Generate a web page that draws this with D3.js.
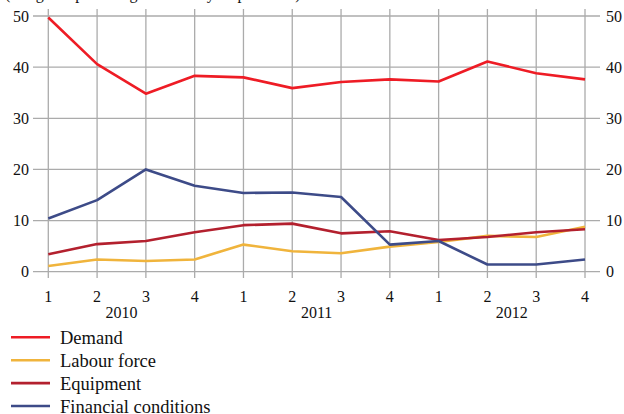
<!DOCTYPE html>
<html><head><meta charset="utf-8">
<script src="https://cdn.jsdelivr.net/npm/d3@7"></script>
<style>body{margin:0;background:#fff}svg text{font-family:"Liberation Serif","DejaVu Serif",serif !important}</style>
</head><body><svg id="c" width="624" height="414"></svg>
<script>
const quarters = ["1","2","3","4","1","2","3","4","1","2","3","4"];
const years = ["2010","2011","2012"];
const yTicks = [0,10,20,30,40,50];
const seriesNames = ["Demand","Labour force","Equipment","Financial conditions"];
const seriesColors = ["#ee1c25","#f0b43c","#b3202e","#3d4b88"];
const demand = [49.7,40.6,34.8,38.3,38.0,35.9,37.1,37.6,37.2,41.1,38.8,37.6];
const labour = [1.1,2.4,2.1,2.4,5.3,4.0,3.6,4.9,5.8,7.0,6.8,8.8];
const equipment = [3.4,5.4,6.0,7.7,9.1,9.4,7.5,7.9,6.2,6.8,7.7,8.3];
const financial = [10.4,14.0,20.0,16.8,15.4,15.5,14.6,5.3,6.0,1.4,1.4,2.4];
const allSeries = [demand, labour, equipment, financial];

const svg = d3.select("#c");
const x = d3.scaleLinear().domain([0,11]).range([48.3,585]);
const y = d3.scaleLinear().domain([0,50]).range([271.7,16]);
const grid = "#ababab";

svg.append("text").attr("x",5).attr("y",-1).attr("font-size",16).attr("fill","#111")
  .text("(Weighted percentages of survey respondents)");

// horizontal grid
svg.append("g").selectAll("line").data(yTicks).join("line")
  .attr("x1",33).attr("x2",600).attr("y1",d=>y(d)).attr("y2",d=>y(d))
  .attr("stroke",grid).attr("stroke-width",1.3);
// vertical grid
svg.append("g").selectAll("line").data(quarters).join("line")
  .attr("x1",(d,i)=>x(i)).attr("x2",(d,i)=>x(i)).attr("y1",9).attr("y2",278)
  .attr("stroke",grid).attr("stroke-width",1.3);

// left/right axes labels
const yl = d3.axisLeft(y).tickValues(yTicks).tickSize(0).tickPadding(0);
const gl = svg.append("g").attr("transform","translate(29,0)").call(yl);
const yr = d3.axisRight(y).tickValues(yTicks).tickSize(0).tickPadding(0);
const gr = svg.append("g").attr("transform","translate(606,0)").call(yr);
[gl,gr].forEach(g=>{g.select(".domain").remove();
  g.selectAll("text").attr("font-size",16).attr("fill","#111").attr("dy","0.32em");});

// x labels
svg.append("g").selectAll("text").data(quarters).join("text")
  .attr("x",(d,i)=>x(i)).attr("y",302).attr("text-anchor","middle")
  .attr("font-size",16).attr("fill","#111").text(d=>d);
svg.append("g").selectAll("text").data(years).join("text")
  .attr("x",(d,i)=>x(i*4+1.5)).attr("y",318).attr("text-anchor","middle")
  .attr("font-size",16).attr("fill","#111").text(d=>d);

// lines
const line = d3.line().x((d,i)=>x(i)).y(d=>y(d));
allSeries.forEach((s,k)=>{
  svg.append("path").datum(s).attr("d",line).attr("fill","none")
    .attr("stroke",seriesColors[k]).attr("stroke-width",2.6).attr("stroke-linejoin","round");
});

// legend
const lg = svg.append("g").selectAll("g").data(seriesNames).join("g")
  .attr("transform",(d,i)=>`translate(0,${337.3+i*22.9})`);
lg.append("line").attr("x1",11).attr("x2",50).attr("stroke",(d,i)=>seriesColors[i]).attr("stroke-width",2.6);
lg.append("text").attr("x",60).attr("y",6.5).attr("font-size",18.5).attr("fill","#111").text(d=>d);
</script></body></html>
